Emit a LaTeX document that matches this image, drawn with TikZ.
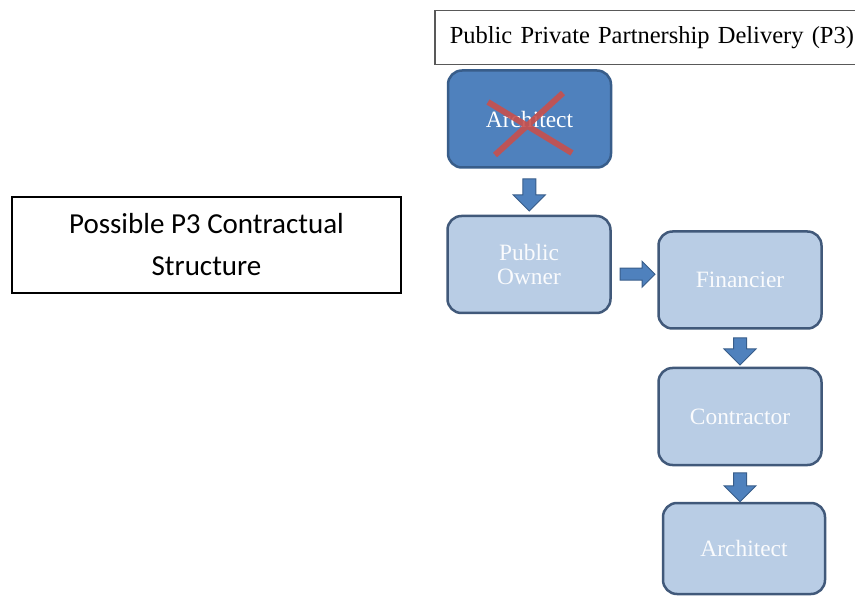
\documentclass[tikz,border=0pt]{standalone}
\usepackage{fontspec}
\setmainfont{Liberation Serif}
\newfontfamily\calibrifont{Carlito}
\usetikzlibrary{shapes.arrows,calc}

\definecolor{officeblue}{HTML}{4F81BD}
\definecolor{officeedge}{HTML}{385D8A}
\definecolor{paleblue}{HTML}{B9CDE5}
\definecolor{slateedge}{HTML}{41597A}
\definecolor{crossred}{HTML}{C8504D}

\tikzset{
  rolebox/.style={draw=slateedge, line width=2.5pt, rounded corners=14pt,
    fill=paleblue, text=white!93!paleblue, align=center,
    font=\fontsize{23.4}{24}\selectfont,
    minimum width=163pt, minimum height=97pt, inner sep=0pt},
  gonebox/.style={rolebox, draw=officeedge, fill=officeblue, text=white},
  blockarrow/.style={single arrow, draw=officeedge, fill=officeblue,
    line width=1pt, inner sep=6pt, single arrow head extend=9.5pt,
    minimum height=32pt},
}

\begin{document}
\begin{tikzpicture}[x=1pt,y=-1pt]
    \useasboundingbox (0,0) rectangle (855,596);
    \clip (0,0) rectangle (855,596);

    % caption on the left
    \node (caption) at (206.5,245) [draw, line width=1.3pt, minimum width=389pt,
      minimum height=96pt, align=center, inner sep=0pt,
      font=\calibrifont\fontsize{29}{42}\selectfont]
      {Possible P3 Contractual\\Structure};

    % heading, runs off the right edge
    \node (heading) at (434,10) [anchor=north west, draw=black!65, line width=1.5pt,
      minimum height=54pt, text width=420pt, inner xsep=15pt, align=left,
      font=\fontsize{24.5}{26}\selectfont]
      {Public Private Partnership Delivery (P3)};

    \node (archX) at (529.5,119) [gonebox, text depth=0pt] {Architect};
    \node (owner) at (529,264.5) [rolebox] {Public\\Owner};
    \node (fin) at (740,280) [rolebox] {Financier};
    \node (con) at (740,416.5) [rolebox] {Contractor};
    \node (arch) at (744,548.5) [rolebox, minimum width=162pt, minimum height=91pt] {Architect};

    % crossed out
    \draw[crossred, opacity=0.9, line width=6pt]
    (488,102) -- (572,153)
    (563,93) -- (495,155);

    \node (a1) at ($(archX.south)!0.5!(owner.north)$) [blockarrow, rotate=-90] {};
    \node (a2) at ($(owner.east)!0.5!(fin.west)+(0,2)$) [blockarrow, inner sep=5.5pt,
      single arrow head extend=7pt, minimum height=35pt] {};
    \node (a3) at ($(fin.south)!0.5!(con.north)$) [blockarrow, rotate=-90, minimum height=27pt] {};
    \node (a4) at ($(con.south)!0.5!(arch.north)+(-2,0)$) [blockarrow, rotate=-90, minimum height=29pt] {};
\end{tikzpicture}
\end{document}
